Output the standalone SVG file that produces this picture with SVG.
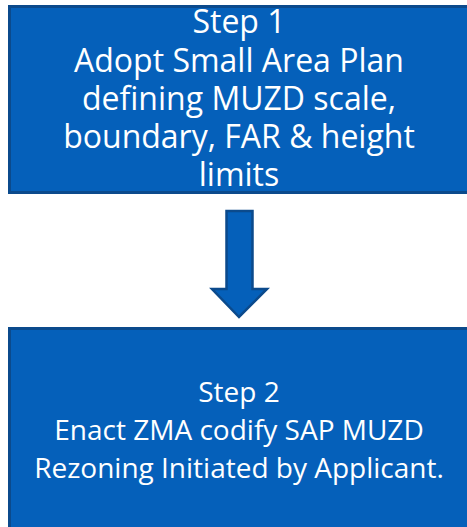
<svg xmlns="http://www.w3.org/2000/svg" width="467" height="527" viewBox="0 0 467 527">
  <style>
    .box { fill: #0560BA; stroke: #0B4A8C; stroke-width: 3; }
    .label { font-family: "Open Sans", "Noto Sans", sans-serif; font-size: 28px; fill: #FFFFFF; text-anchor: middle; }
    .big { font-size: 32px; }
    .arrow { fill: #0560BA; stroke: #0B4A8C; stroke-width: 2.5; stroke-linejoin: miter; }
  </style>
  <rect width="467" height="527" fill="#FFFFFF"/>
  <g id="step1">
    <rect class="box" x="9.5" y="6.5" width="462" height="186"/>
    <text class="label big"><tspan x="239" y="33">Step 1</tspan><tspan x="239" y="72">Adopt Small Area Plan</tspan><tspan x="239" y="110">defining MUZD scale,</tspan><tspan x="239" y="148">boundary, FAR &amp; height</tspan><tspan x="239" y="186">limits</tspan></text>
  </g>
  <g id="connectors">
    <polygon class="arrow" points="226.5,211 252.5,211 252.5,289 267,289 239,317 212,289 226.5,289"/>
  </g>
  <g id="step2">
    <rect class="box" x="9.5" y="328.5" width="462" height="210"/>
    <text class="label"><tspan x="239" y="402">Step 2</tspan><tspan x="239" y="440">Enact ZMA codify SAP MUZD</tspan><tspan x="239" y="478">Rezoning Initiated by Applicant.</tspan></text>
  </g>
</svg>
